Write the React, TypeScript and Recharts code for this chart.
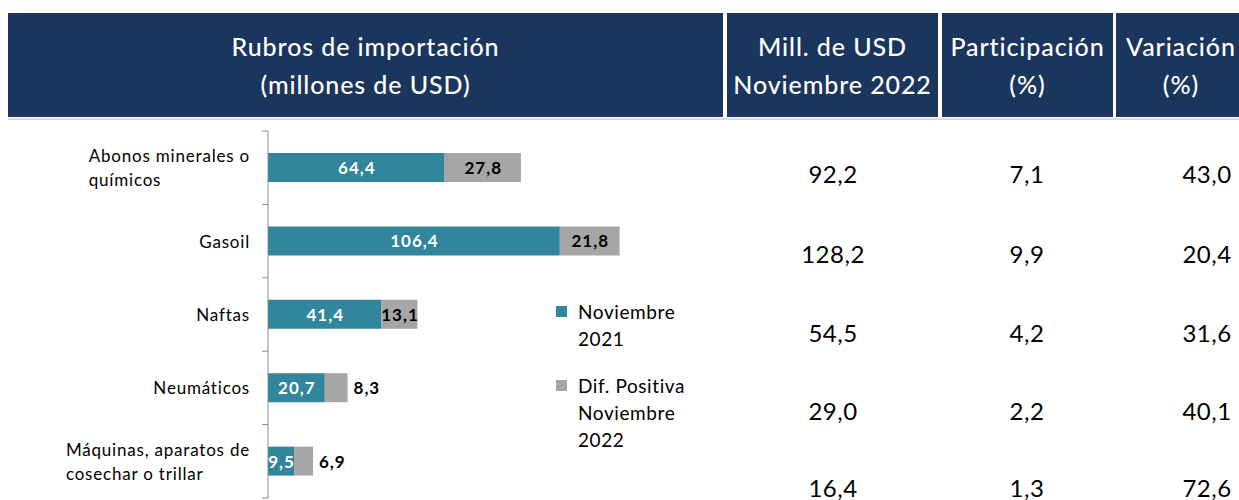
import React from 'react';
import { BarChart, Bar, XAxis, YAxis, LabelList, Legend } from 'recharts';

const categories = ['Abonos minerales o químicos', 'Gasoil', 'Naftas', 'Neumáticos', 'Máquinas, aparatos de cosechar o trillar'];
const categoryLines = [['Abonos minerales o', 'químicos'], ['Gasoil'], ['Naftas'], ['Neumáticos'], ['Máquinas, aparatos de', 'cosechar o trillar']];
const nov2021 = [64.4, 106.4, 41.4, 20.7, 9.5];
const difPositiva = [27.8, 21.8, 13.1, 8.3, 6.9];
const millUSD = [92.2, 128.2, 54.5, 29.0, 16.4];
const participacion = [7.1, 9.9, 4.2, 2.2, 1.3];
const variacion = [43.0, 20.4, 31.6, 40.1, 72.6];
const seriesNames = ['Noviembre 2021', 'Dif. Positiva Noviembre 2022'];
const seriesLines = [['Noviembre', '2021'], ['Dif. Positiva', 'Noviembre', '2022']];
const headerTitle = ['Rubros de importación', '(millones de USD)'];
const columnHeaders = [['Mill. de USD', 'Noviembre 2022'], ['Participación', '(%)'], ['Variación', '(%)']];
const tableColumns = [millUSD, participacion, variacion];

const data = categories.map((c, i) => ({ name: c, nov2021: nov2021[i], dif: difPositiva[i] }));

const FONT = 'Lato, "Open Sans", sans-serif';
const NAVY = '#1B365D';
const TEAL = '#31859C';
const GRAY = '#A6A6A6';

const CHART_TOP = 131;
const CHART_H = 500;
const CHART_BOTTOM = 2;
const PLOT_H = CHART_H - CHART_TOP - CHART_BOTTOM;
const BAND = PLOT_H / categories.length;

const fmt = (v: number) => v.toFixed(1).replace('.', ',');

let ctx: CanvasRenderingContext2D | null = null;
function measure(text: string, font: string, spacing: number) {
  if (!ctx) ctx = document.createElement('canvas').getContext('2d');
  if (!ctx) return text.length * 9;
  ctx.font = font;
  return ctx.measureText(text).width + spacing * text.length;
}

const TICK_FONT_SIZE = 17;
const TICK_SPACING = 0.8;
const CategoryTick = (props: any) => {
  const { x, y, payload, index } = props;
  const idx = categories.indexOf(payload.value);
  const lines = categoryLines[idx] || [payload.value];
  const lineH = 24;
  const maxW = Math.max(...lines.map((l) => measure(l, `${TICK_FONT_SIZE}px Lato`, TICK_SPACING)));
  const startX = x - maxW;
  const axisX = x + 18;
  const y0 = y - ((lines.length - 1) * lineH) / 2;
  return (
    <g>
      <line x1={axisX - 6} x2={axisX} y1={y - BAND / 2} y2={y - BAND / 2} stroke="#8C8C8C" />
      {index === categories.length - 1 && (
        <line x1={axisX - 6} x2={axisX} y1={y + BAND / 2} y2={y + BAND / 2} stroke="#8C8C8C" />
      )}
      {lines.map((l, i) => (
        <text
          key={i}
          x={lines.length > 1 ? startX : x}
          y={y0 + i * lineH}
          textAnchor={lines.length > 1 ? 'start' : 'end'}
          dominantBaseline="central"
          fontSize={TICK_FONT_SIZE}
          letterSpacing={TICK_SPACING}
          fontFamily={FONT}
          fill="#000"
        >
          {l}
        </text>
      ))}
    </g>
  );
};

const LABEL_STYLE = { fontWeight: 700, fontSize: 17, letterSpacing: 1, fontFamily: FONT } as const;

const InsideLabel = (props: any) => {
  const { x, y, width, height, value } = props;
  return (
    <text
      x={x + width / 2 + 0.5}
      y={y + height / 2}
      textAnchor="middle"
      dominantBaseline="central"
      fill="#fff"
      {...LABEL_STYLE}
    >
      {fmt(value)}
    </text>
  );
};

const DifLabel = (props: any) => {
  const { x, y, width, height, value } = props;
  const inside = width >= 30;
  return (
    <text
      x={inside ? x + width / 2 + 0.5 : x + width + 6}
      y={y + height / 2}
      textAnchor={inside ? 'middle' : 'start'}
      dominantBaseline="central"
      fill="#000"
      {...LABEL_STYLE}
    >
      {fmt(value)}
    </text>
  );
};

const LegendContent = (props: any) => {
  const payload = [...(props.payload || [])].sort(
    (a: any, b: any) => seriesNames.indexOf(a.value) - seriesNames.indexOf(b.value)
  );
  return (
    <div style={{ fontFamily: FONT, fontSize: 19, letterSpacing: 0.6, color: '#000' }}>
      {payload.map((p: any, i: number) => {
        const si = seriesNames.indexOf(p.value);
        const lines = seriesLines[si] || [p.value];
        return (
          <div key={i} style={{ display: 'flex', alignItems: 'flex-start', marginBottom: 20 }}>
            <div style={{ width: 11, height: 11, background: p.color, marginTop: 8, marginRight: 11, flexShrink: 0 }} />
            <div style={{ lineHeight: '27px', whiteSpace: 'nowrap' }}>
              {lines.map((l, j) => (
                <div key={j}>{l}</div>
              ))}
            </div>
          </div>
        );
      })}
    </div>
  );
};

export default function App() {
  const headerCells = [
    { left: 8, width: 715, lines: headerTitle },
    { left: 727, width: 211, lines: columnHeaders[0] },
    { left: 942, width: 171, lines: columnHeaders[1] },
    { left: 1116, width: 130, lines: columnHeaders[2] },
  ];
  const colCenters = [833, 1027, 1207];
  const rowCenters = [173, 253, 332, 410, 487];
  return (
    <div style={{ position: 'relative', width: 1239, height: 500, overflow: 'hidden', background: '#fff', fontFamily: FONT }}>
      <style>{'body{margin:0;overflow:hidden}'}</style>
      {headerCells.map((c, i) => (
        <div
          key={i}
          style={{
            position: 'absolute',
            left: c.left,
            top: 13,
            width: c.width,
            height: 104,
            background: NAVY,
            color: '#fff',
            display: 'flex',
            flexDirection: 'column',
            alignItems: 'center',
            justifyContent: 'center',
            fontSize: 25,
            fontWeight: 500,
            lineHeight: '38px',
            letterSpacing: 0.9,
            whiteSpace: 'nowrap',
          }}
        >
          {c.lines.map((l, j) => (
            <div key={j}>{l}</div>
          ))}
        </div>
      ))}
      <div style={{ position: 'absolute', left: 8, top: 118, width: 1231, height: 2, background: '#D9D9D9' }} />
      <div style={{ position: 'absolute', left: 0, top: 0 }}>
        <BarChart
          width={652}
          height={CHART_H}
          data={data}
          layout="vertical"
          margin={{ top: CHART_TOP, right: 0, bottom: CHART_BOTTOM, left: 0 }}
          barSize={29}
        >
          <XAxis type="number" domain={[0, 140]} hide />
          <YAxis
            type="category"
            dataKey="name"
            width={268}
            axisLine={{ stroke: '#8C8C8C' }}
            tickLine={false}
            tickSize={6}
            tickMargin={12}
            tick={<CategoryTick />}
            interval={0}
          />
          <Legend
            layout="vertical"
            align="center"
            verticalAlign="middle"
            content={<LegendContent />}
            wrapperStyle={{ left: 556, top: 298, width: 180 }}
          />
          <Bar dataKey="nov2021" name={seriesNames[0]} stackId="a" fill={TEAL} isAnimationActive={false}>
            <LabelList dataKey="nov2021" content={<InsideLabel />} />
          </Bar>
          <Bar dataKey="dif" name={seriesNames[1]} stackId="a" fill={GRAY} isAnimationActive={false}>
            <LabelList dataKey="dif" content={<DifLabel />} />
          </Bar>
        </BarChart>
      </div>
      {tableColumns.map((col, ci) =>
        col.map((v, ri) => (
          <div
            key={`${ci}-${ri}`}
            style={{
              position: 'absolute',
              left: colCenters[ci],
              top: rowCenters[ri],
              transform: 'translate(-50%, -50%)',
              fontSize: 24,
              letterSpacing: 0.5,
              color: '#000',
              whiteSpace: 'nowrap',
            }}
          >
            {fmt(v)}
          </div>
        ))
      )}
    </div>
  );
}
